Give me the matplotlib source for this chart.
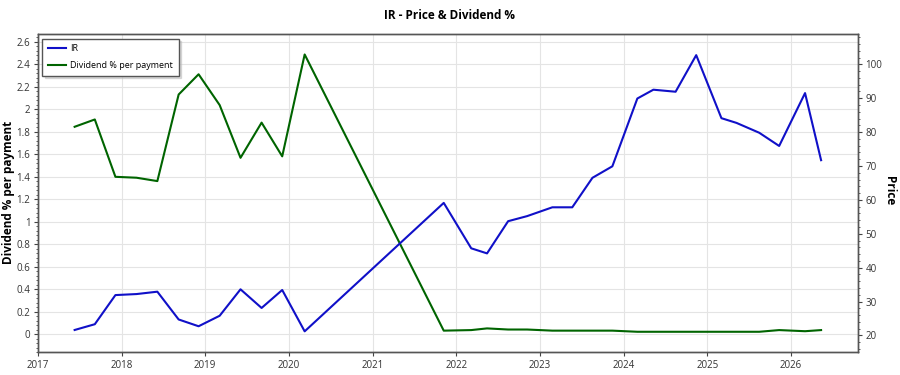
import matplotlib

matplotlib.use("Agg")
import matplotlib.pyplot as plt
import matplotlib.dates as mdates
from matplotlib.ticker import AutoMinorLocator, FuncFormatter, MultipleLocator
from datetime import date

plt.rcParams["font.family"] = ["Open Sans", "DejaVu Sans"]

dates = [
    date(2017, 6, 10), date(2017, 9, 6), date(2017, 12, 5), date(2018, 3, 7),
    date(2018, 6, 6), date(2018, 9, 7), date(2018, 12, 3), date(2019, 3, 5),
    date(2019, 6, 4), date(2019, 9, 4), date(2019, 12, 3), date(2020, 3, 10),
    date(2021, 11, 7), date(2022, 3, 7), date(2022, 5, 15), date(2022, 8, 15),
    date(2022, 11, 6), date(2023, 2, 24), date(2023, 5, 22), date(2023, 8, 18),
    date(2023, 11, 13), date(2024, 3, 1), date(2024, 5, 10), date(2024, 8, 15),
    date(2024, 11, 13), date(2025, 3, 3), date(2025, 5, 8), date(2025, 8, 15),
    date(2025, 11, 10), date(2026, 3, 3), date(2026, 5, 12),
]
price = [
    21.6, 23.3, 31.9, 32.2, 32.9, 24.7, 22.7, 25.8, 33.6, 28.1, 33.4, 21.2,
    59.1, 45.7, 44.2, 53.7, 55.2, 57.8, 57.8, 66.5, 69.9, 89.9, 92.5, 91.9,
    102.7, 84.1, 82.7, 79.8, 75.9, 91.5, 71.7,
]
dividend_pct = [
    1.843, 1.908, 1.398, 1.39, 1.36, 2.13, 2.31, 2.036, 1.567, 1.88, 1.58, 2.486,
    0.03, 0.035, 0.05, 0.04, 0.04, 0.03, 0.03, 0.03, 0.03, 0.02, 0.02, 0.02,
    0.02, 0.02, 0.02, 0.02, 0.035, 0.025, 0.035,
]

fig = plt.figure(figsize=(9, 3.75), dpi=100)
ax = fig.add_axes([0.0422, 0.0613, 0.9111, 0.8477])
ax2 = ax.twinx()

ax.plot(dates, dividend_pct, color="#006400", linewidth=1.5, label="Dividend % per payment")
ax2.plot(dates, price, color="#1010C8", linewidth=1.5, label="IR")

ax.set_xlim(date(2017, 1, 1), date(2026, 10, 20))
ax.set_ylim(-0.16, 2.667)
ax2.set_ylim(15.1, 108.9)

ax.xaxis.set_major_locator(mdates.YearLocator())
ax.xaxis.set_major_formatter(mdates.DateFormatter("%Y"))
ax.yaxis.set_major_locator(MultipleLocator(0.2))
ax.yaxis.set_major_formatter(FuncFormatter(lambda v, p: f"{v:.1f}".rstrip("0").rstrip(".") if abs(v) > 1e-9 else "0"))
ax.yaxis.set_minor_locator(AutoMinorLocator(5))
ax2.yaxis.set_major_locator(MultipleLocator(10))
ax2.yaxis.set_minor_locator(AutoMinorLocator(5))

ax.grid(True, color="#e4e4e4", linewidth=0.8)
ax2.grid(False)
ax.set_axisbelow(True)

for a in (ax, ax2):
    a.tick_params(labelsize=7, labelcolor="#333333", color="#444444", length=3, width=0.8, pad=2.5)
    a.tick_params(which="minor", length=1.5, width=0.6, color="#444444")
    for s in a.spines.values():
        s.set_color("#555555")
        s.set_linewidth(1.0)

fig.text(0.0095, 0.486, "Dividend % per payment", fontsize=8.5, fontweight="bold",
         rotation=90, ha="center", va="center")
fig.text(0.988, 0.493, "Price", fontsize=8.5, fontweight="bold",
         rotation=-90, ha="center", va="center")
fig.suptitle("IR - Price & Dividend %", fontsize=8.5, fontweight="bold", y=0.975)

h1, l1 = ax.get_legend_handles_labels()
h2, l2 = ax2.get_legend_handles_labels()
leg = ax2.legend(h2 + h1, l2 + l1, loc="upper left", fontsize=6.5, frameon=True,
                 fancybox=False, shadow={"color": "#bbbbbb", "ox": 2, "oy": -2},
                 edgecolor="#555555", borderpad=0.6, labelspacing=0.9, handlelength=2.0,
                 handletextpad=0.5, bbox_to_anchor=(0.0, 1.0))
leg.get_frame().set_linewidth(1.0)

fig.savefig("out.png", dpi=100)
plt.close(fig)
